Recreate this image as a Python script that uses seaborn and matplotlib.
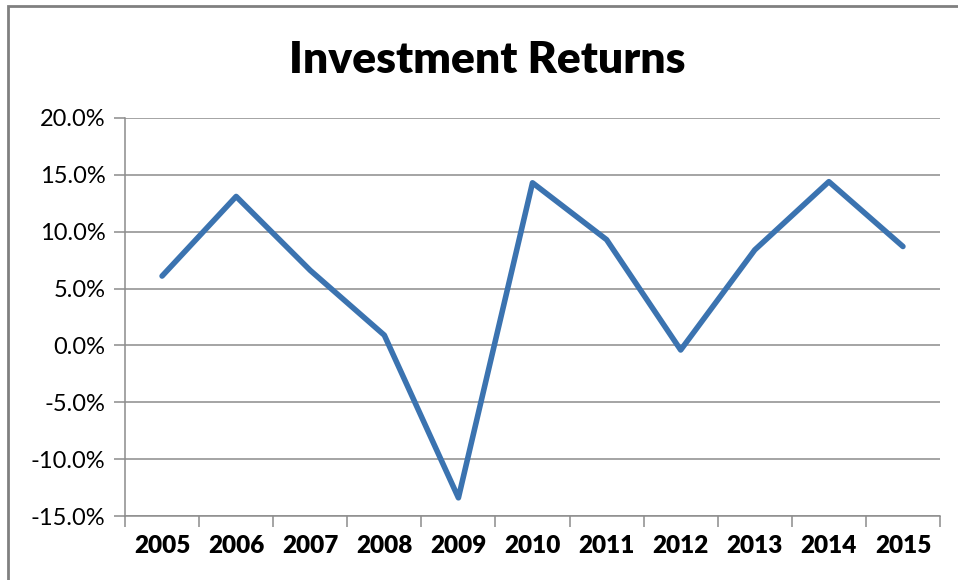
import numpy as np
import pandas as pd
import matplotlib
matplotlib.use("Agg")
import matplotlib.pyplot as plt
import seaborn as sns
from matplotlib.ticker import FixedLocator, FuncFormatter, NullFormatter
from matplotlib.patches import Rectangle

# chart data
years = ["2005", "2006", "2007", "2008", "2009", "2010",
         "2011", "2012", "2013", "2014", "2015"]
returns = [6.1, 13.1, 6.6, 0.9, -13.4, 14.3, 9.3, -0.4, 8.4, 14.4, 8.7]
y_ticks = [-15, -10, -5, 0, 5, 10, 15, 20]

df = pd.DataFrame({"year": years, "ret": returns})

sns.set_style("white")
plt.rcParams['font.family'] = ['Lato', 'DejaVu Sans']
plt.rcParams['text.color'] = 'black'
plt.rcParams['xtick.color'] = 'black'
plt.rcParams['ytick.color'] = 'black'

fig = plt.figure(figsize=(9.58, 5.8), dpi=100)
ax = fig.add_axes([0.1305, 0.1103, 0.9812 - 0.1305, 0.7966 - 0.1103])

sns.lineplot(data=df, x="year", y="ret", ax=ax, color="#3B73B0",
             linewidth=4.0, sort=False)

ax.set_ylim(-15, 20)
ax.set_xlim(-0.5, len(years) - 0.5)
ax.yaxis.set_major_locator(FixedLocator(y_ticks))
ax.yaxis.set_major_formatter(FuncFormatter(lambda v, p: f"{v:.1f}%"))
ax.grid(axis="y", color="#8c8c8c", linewidth=1.1)
ax.set_axisbelow(True)

# x ticks between categories
ax.xaxis.set_minor_locator(FixedLocator(np.arange(-0.5, len(years), 1.0)))
ax.xaxis.set_minor_formatter(NullFormatter())
ax.tick_params(axis="x", which="major", length=0, pad=14, labelcolor="black")
ax.tick_params(axis="x", which="minor", length=8, width=1.1, color="#8c8c8c",
               direction="out", bottom=True)
ax.tick_params(axis="y", which="major", length=8, width=1.1, color="#8c8c8c",
               direction="out", left=True, pad=6, labelsize=17,
               labelcolor="black")
for lab in ax.get_xticklabels():
    lab.set_fontweight("heavy")
    lab.set_fontsize(17.5)

for side in ["top", "right"]:
    ax.spines[side].set_visible(False)
for side in ["left", "bottom"]:
    ax.spines[side].set_color("#8c8c8c")
    ax.spines[side].set_linewidth(1.1)

ax.set_xlabel("")
ax.set_ylabel("")

fig.text(0.509, 0.897, "Investment Returns", ha="center", va="center",
         fontsize=32, fontweight="heavy", color="black")

# outer chart frame
fig.patches.append(Rectangle((8 / 958, -0.05), 1.2, 1.05 - 6 / 580,
                             transform=fig.transFigure, fill=False,
                             edgecolor="#808080", linewidth=2))

fig.savefig("out.png", dpi=100)
